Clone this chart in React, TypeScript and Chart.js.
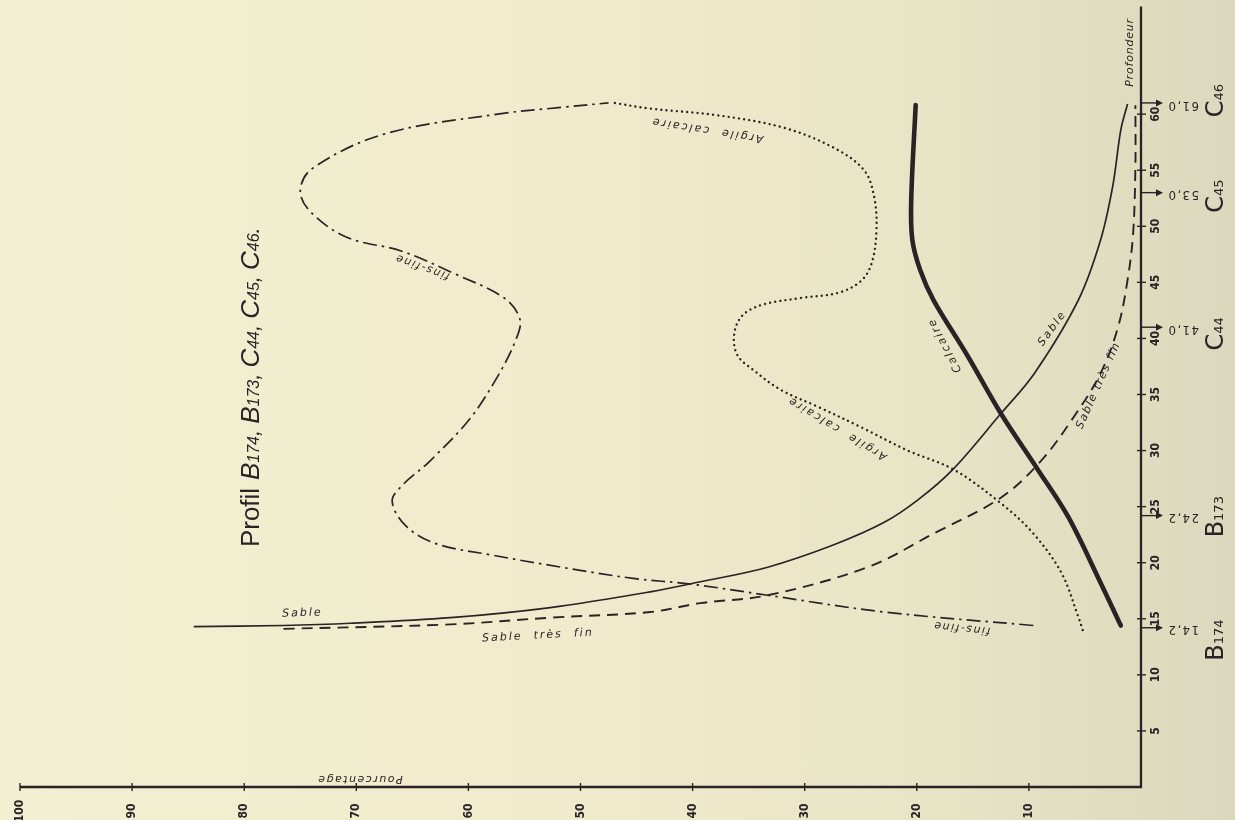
import React, { useEffect, useRef } from "react";
import { Chart, registerables } from "chart.js";

Chart.register(...registerables);

// ---------- axis ticks & sample marks ----------
const pctTicks = [100, 90, 80, 70, 60, 50, 40, 30, 20, 10];
const depthTicks = [5, 10, 15, 20, 25, 30, 35, 40, 45, 50, 55, 60];
const sampleDepths = [14.2, 24.2, 41.0, 53.0, 61.0];
const sampleDepthLabels = ["14,2", "24,2", "41,0", "53,0", "61,0"];
const profileLetters = ["B", "B", "C", "C", "C"];
const profileNumbers = ["174", "173", "44", "45", "46"];
const profileLabelDepths = [13.1, 24.1, 40.4, 52.7, 61.2];

// ---------- series (depth, percentage) ----------
const sableDepth = [14.3, 14.4, 14.6, 15.1, 16.0, 17.4, 18.3, 19.6, 21.6, 23.6, 25.6, 28.3, 33.3, 36.9, 43.4, 48.8, 53.7, 58.6, 60.9];
const sablePct = [84.5, 76.5, 70.5, 61.6, 52.7, 43.8, 39.3, 33.3, 27.4, 22.9, 19.9, 16.8, 12.5, 9.5, 5.6, 3.6, 2.5, 1.8, 1.2];

const sableTresFinDepth = [14.1, 14.5, 15.1, 15.6, 16.4, 17.1, 19.6, 22.6, 25.8, 29.1, 33.0, 36.9, 41.0, 45.2, 49.4, 55.3, 60.8];
const sableTresFinPct = [76.5, 61.6, 52.7, 43.8, 39.3, 33.3, 24.4, 18.5, 12.5, 8.9, 6.0, 3.6, 2.05, 1.2, 0.7, 0.5, 0.5];

const finsFineDepth = [14.4, 15.6, 17.1, 18.1, 18.6, 19.6, 20.7, 21.7, 23.3, 25.5, 27.0, 29.0, 32.8, 36.6, 39.8, 41.7, 43.6, 45.8, 47.8, 49.0, 51.2, 53.1, 55.1, 58.2, 60.0, 60.6, 61.0];
const finsFinePct = [9.6, 22.9, 33.3, 40.2, 45.3, 51.7, 58.0, 62.9, 65.6, 66.8, 65.8, 63.5, 59.9, 57.4, 55.8, 55.4, 56.8, 61.3, 66.0, 70.8, 74.0, 75.0, 74.0, 67.6, 57.4, 51.7, 47.5];

const argileDepth = [14.0, 15.2, 19.1, 22.6, 25.3, 28.3, 30.0, 32.1, 33.9, 35.4, 37.2, 38.5, 40.3, 42.0, 43.0, 43.6, 44.1, 45.2, 46.8, 49.6, 52.6, 55.0, 57.0, 58.8, 59.9, 60.5, 61.0];
const argilePct = [5.2, 5.6, 7.1, 9.6, 12.5, 16.7, 20.8, 25.0, 28.8, 32.1, 34.6, 36.0, 36.3, 35.6, 33.8, 30.4, 26.9, 24.9, 24.0, 23.6, 23.8, 24.7, 27.4, 31.9, 37.8, 43.8, 47.0];

const calcaireDepth = [14.4, 18.2, 24.1, 28.3, 33.3, 38.5, 43.4, 46.1, 48.8, 52.3, 60.8];
const calcairePct = [1.8, 3.6, 6.5, 9.2, 12.5, 15.5, 18.5, 19.7, 20.4, 20.5, 20.1];

const ink = "#2a2326";

const zip = (d: number[], p: number[]) => d.map((v, i) => ({ x: p[i], y: v }));

type Seg = { t: string; f: string };

function rich(ctx: CanvasRenderingContext2D, segs: Seg[], x: number, y: number, deg: number) {
  ctx.save();
  ctx.translate(x, y);
  ctx.rotate((deg * Math.PI) / 180);
  ctx.textBaseline = "alphabetic";
  ctx.textAlign = "left";
  let total = 0;
  const widths = segs.map((s) => {
    ctx.font = s.f;
    const w = ctx.measureText(s.t).width;
    total += w;
    return w;
  });
  let cx = -total / 2;
  segs.forEach((s, i) => {
    ctx.font = s.f;
    ctx.fillText(s.t, cx, 0);
    cx += widths[i];
  });
  ctx.restore();
}

function txt(ctx: CanvasRenderingContext2D, t: string, x: number, y: number, deg: number, font: string, spacing = 0) {
  ctx.save();
  ctx.translate(x, y);
  ctx.rotate((deg * Math.PI) / 180);
  ctx.font = font;
  (ctx as any).letterSpacing = spacing + "px";
  ctx.textAlign = "center";
  ctx.textBaseline = "middle";
  ctx.fillText(t, 0, 0);
  ctx.restore();
}

const hand = 'italic 11px "DejaVu Sans"';
const tickFont = 'bold 12px "Liberation Sans Narrow", "DejaVu Sans Condensed", sans-serif';

const paperPlugin = {
  id: "paper",
  afterDraw(chart: any) {
    const ctx: CanvasRenderingContext2D = chart.ctx;
    const xs = chart.scales.x;
    const ys = chart.scales.y;
    const { right, bottom } = chart.chartArea;
    const X = (p: number) => xs.getPixelForValue(p);
    const Y = (d: number) => ys.getPixelForValue(d);
    ctx.save();
    ctx.strokeStyle = ink;
    ctx.fillStyle = ink;
    ctx.lineCap = "butt";

    // axes
    ctx.lineWidth = 2.3;
    ctx.beginPath();
    ctx.moveTo(X(100), bottom);
    ctx.lineTo(right, bottom);
    ctx.lineTo(right, Y(69.6));
    ctx.stroke();

    // percentage ticks + labels
    ctx.lineWidth = 1.4;
    pctTicks.forEach((p) => {
      const x = X(p);
      ctx.beginPath();
      ctx.moveTo(x, bottom - 4);
      ctx.lineTo(x, bottom + 4);
      ctx.stroke();
      txt(ctx, String(p), x, bottom + 24, -90, tickFont);
    });

    // depth ticks + labels
    depthTicks.forEach((d) => {
      const y = Y(d);
      ctx.beginPath();
      ctx.moveTo(right - 4, y);
      ctx.lineTo(right + 5, y);
      ctx.stroke();
      txt(ctx, String(d), right + 15, y, -90, tickFont);
    });

    // sample arrows
    sampleDepths.forEach((d, i) => {
      const y = Y(d);
      ctx.lineWidth = 1.4;
      ctx.beginPath();
      ctx.moveTo(right, y);
      ctx.lineTo(right + 17, y);
      ctx.stroke();
      ctx.beginPath();
      ctx.moveTo(right + 22, y);
      ctx.lineTo(right + 15, y - 3.5);
      ctx.lineTo(right + 15, y + 3.5);
      ctx.closePath();
      ctx.fill();
      txt(ctx, sampleDepthLabels[i], right + 42, y + 2, 180, '13px "Liberation Sans Narrow", "DejaVu Sans Condensed", sans-serif', 1.5);
    });

    // profile names
    profileLabelDepths.forEach((d, i) => {
      rich(
        ctx,
        [
          { t: profileLetters[i], f: '24px "Liberation Sans Narrow", "DejaVu Sans", sans-serif' },
          { t: profileNumbers[i], f: '13px "Liberation Sans Narrow", "DejaVu Sans", sans-serif' },
        ],
        right + 82,
        Y(d),
        -90
      );
    });

    // titles
    txt(ctx, "Pourcentage", X(69.7), Y(0.7), 180, hand, 1.5);
    txt(ctx, "Profondeur", X(1.0), Y(65.5), -90, hand, 0.8);

    const big = '26px "Liberation Sans", "DejaVu Sans", sans-serif';
    const bigI = 'italic 26px "Liberation Sans", "DejaVu Sans", sans-serif';
    const smI = 'italic 16px "Liberation Sans", "DejaVu Sans", sans-serif';
    const cmI = 'italic 22px "Liberation Sans", "DejaVu Sans", sans-serif';
    rich(
      ctx,
      [
        { t: "Profil", f: big },
        { t: "  ", f: '14px "Liberation Sans"' },
        { t: "B", f: bigI }, { t: "174", f: smI }, { t: ", ", f: cmI },
        { t: "B", f: bigI }, { t: "173", f: smI }, { t: ", ", f: cmI },
        { t: "C", f: bigI }, { t: "44", f: smI }, { t: ", ", f: cmI },
        { t: "C", f: bigI }, { t: "45", f: smI }, { t: ", ", f: cmI },
        { t: "C", f: bigI }, { t: "46", f: smI }, { t: ".", f: cmI },
      ],
      X(78.7),
      Y(35.65),
      -90
    );

    // curve labels
    txt(ctx, "Sable", X(74.8), Y(15.5), -2, hand, 2);
    txt(ctx, "Sable  très  fin", X(53.8), Y(13.5), -3, hand, 2);
    txt(ctx, "fins-fine", X(16.0), Y(14.2), 186, hand, 1.5);
    txt(ctx, "fins-fine", X(64.1), Y(46.4), 200, hand, 1.5);
    txt(ctx, "Argile  calcaire", X(38.7), Y(58.6), 189, hand, 2);
    txt(ctx, "Argile  calcaire", X(27.1), Y(32.0), 211, hand, 2);
    txt(ctx, "Sable", X(7.9), Y(40.9), -54, hand, 2);
    txt(ctx, "Calcaire", X(17.5), Y(39.4), 242, hand, 2);
    txt(ctx, "Sable très fin", X(3.8), Y(35.8), -66, hand, 1.5);

    ctx.restore();
  },
};

export default function App() {
  const ref = useRef<HTMLCanvasElement | null>(null);

  useEffect(() => {
    if (!ref.current) return;
    const base = { showLine: true, pointRadius: 0, borderColor: ink, fill: false, tension: 0.35 };
    const chart = new Chart(ref.current, {
      type: "scatter",
      data: {
        datasets: [
          { ...base, label: "Sable", data: zip(sableDepth, sablePct), borderWidth: 1.7 },
          { ...base, label: "Sable très fin", data: zip(sableTresFinDepth, sableTresFinPct), borderWidth: 1.9, borderDash: [11, 7] },
          { ...base, label: "Fins-fine", data: zip(finsFineDepth, finsFinePct), borderWidth: 1.7, borderDash: [14, 5, 2.5, 5] },
          { ...base, label: "Argile calcaire", data: zip(argileDepth, argilePct), borderWidth: 2.4, borderDash: [0.01, 5.2], borderCapStyle: "round" },
          { ...base, label: "Calcaire", data: zip(calcaireDepth, calcairePct), borderWidth: 4.6, borderCapStyle: "round", borderJoinStyle: "round" },
        ] as any,
      },
      options: {
        animation: false,
        responsive: false,
        maintainAspectRatio: false,
        devicePixelRatio: 1,
        events: [],
        layout: { padding: { left: 20, right: 94, top: 2, bottom: 33 } },
        plugins: { legend: { display: false }, tooltip: { enabled: false } },
        scales: {
          x: { type: "linear", min: 0, max: 100, reverse: true, display: false },
          y: { type: "linear", min: 0, max: 70, display: false },
        },
      },
      plugins: [paperPlugin],
    });
    return () => chart.destroy();
  }, []);

  return (
    <div
      style={{
        position: "fixed",
        left: 0,
        top: 0,
        width: 1235,
        height: 820,
        background: "linear-gradient(90deg, #f3efd2 0%, #efebcc 45%, #e8e4c6 75%, #dbd8bd 100%)",
      }}
    >
      <canvas ref={ref} width={1235} height={820} style={{ display: "block" }} />
    </div>
  );
}
